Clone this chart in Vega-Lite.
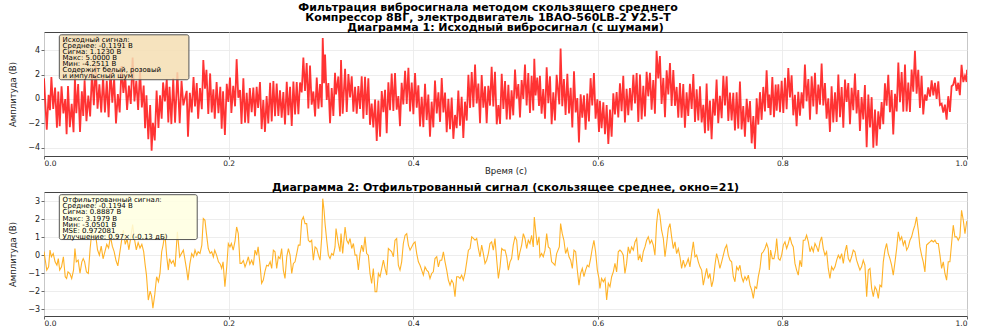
{
"$schema": "https://vega.github.io/schema/vega-lite/v6.json",
"background": "white",
"padding": {"left": 8, "top": 2, "right": 5, "bottom": 0},
"autosize": {"type": "pad"},
"title": {"text": ["Фильтрация вибросигнала методом скользящего среднего", "Компрессор 8ВГ, электродвигатель 1ВАО-560LB-2 У2.5-Т"], "font": "DejaVu Sans", "fontSize": 11, "fontWeight": "bold", "color": "#000", "lineHeight": 10, "anchor": "middle", "frame": "bounds", "offset": -1.5},
"bounds": "flush",
"spacing": 36,
"datasets": {"sig": [
{"t":0.000,"filt":0.20,"raw":1.70},{"t":0.003,"filt":-0.83,"raw":-2.53},{"t":0.005,"filt":-0.65,"raw":0.35},{"t":0.0065,"filt":0.28,"raw":-0.92},{"t":0.008,"filt":-0.09,"raw":1.81},{"t":0.010,"filt":0.09,"raw":-0.81},{"t":0.012,"filt":-0.37,"raw":0.93},{"t":0.014,"filt":-0.56,"raw":-2.36},{"t":0.0155,"filt":-0.19,"raw":0.61},{"t":0.017,"filt":-0.83,"raw":-2.23},
{"t":0.019,"filt":-0.65,"raw":1.05},{"t":0.021,"filt":-0.09,"raw":-1.19},{"t":0.023,"filt":-1.20,"raw":0.00},{"t":0.0245,"filt":-1.30,"raw":-2.90},{"t":0.026,"filt":-0.93,"raw":1.07},{"t":0.028,"filt":-1.02,"raw":-2.32},{"t":0.030,"filt":-1.30,"raw":-0.40},{"t":0.032,"filt":-0.83,"raw":-2.73},{"t":0.0335,"filt":0.37,"raw":1.77},{"t":0.035,"filt":-0.37,"raw":-1.17},
{"t":0.037,"filt":-0.28,"raw":1.22},{"t":0.039,"filt":-1.00,"raw":-2.70},{"t":0.041,"filt":-0.37,"raw":0.63},{"t":0.0425,"filt":-0.19,"raw":-1.39},{"t":0.044,"filt":-0.37,"raw":1.53},{"t":0.046,"filt":-0.93,"raw":-1.83},{"t":0.048,"filt":-1.02,"raw":0.28},{"t":0.050,"filt":0.37,"raw":-1.43},{"t":0.052,"filt":1.40,"raw":2.20},{"t":0.054,"filt":0.90,"raw":-0.50},
{"t":0.056,"filt":1.10,"raw":2.80},{"t":0.058,"filt":0.30,"raw":-0.80},{"t":0.060,"filt":0.00,"raw":1.20},{"t":0.062,"filt":0.50,"raw":-1.10},{"t":0.064,"filt":-0.20,"raw":1.80},{"t":0.066,"filt":0.20,"raw":-1.10},{"t":0.068,"filt":0.60,"raw":1.50},{"t":0.070,"filt":0.40,"raw":-1.50},{"t":0.072,"filt":1.05,"raw":2.45},{"t":0.074,"filt":0.50,"raw":-0.30},
{"t":0.076,"filt":0.20,"raw":1.70},{"t":0.078,"filt":-0.30,"raw":-2.00},{"t":0.080,"filt":-0.60,"raw":0.40},{"t":0.082,"filt":0.10,"raw":-1.10},{"t":0.084,"filt":0.80,"raw":2.70},{"t":0.086,"filt":1.40,"raw":0.50},{"t":0.088,"filt":0.60,"raw":1.90},{"t":0.090,"filt":0.90,"raw":-0.90},{"t":0.092,"filt":0.30,"raw":1.10},{"t":0.094,"filt":1.00,"raw":-0.40},
{"t":0.096,"filt":1.70,"raw":3.40},{"t":0.098,"filt":0.90,"raw":-0.20},{"t":0.100,"filt":0.30,"raw":1.50},{"t":0.102,"filt":0.70,"raw":-0.90},{"t":0.104,"filt":0.40,"raw":2.40},{"t":0.106,"filt":0.60,"raw":-0.70},{"t":0.108,"filt":0.20,"raw":1.10},{"t":0.1095,"filt":-0.50,"raw":-2.40},{"t":0.111,"filt":-1.10,"raw":0.30},{"t":0.113,"filt":-2.50,"raw":-3.30},
{"t":0.115,"filt":-2.00,"raw":-0.50},{"t":0.1166,"filt":-2.30,"raw":-4.25},{"t":0.118,"filt":-2.95,"raw":-1.95},{"t":0.120,"filt":-2.20,"raw":-3.40},{"t":0.122,"filt":-1.20,"raw":0.70},{"t":0.124,"filt":-1.48,"raw":-2.38},{"t":0.1257,"filt":-1.00,"raw":0.30},{"t":0.1275,"filt":0.19,"raw":-1.61},{"t":0.129,"filt":0.56,"raw":1.36},{"t":0.131,"filt":1.20,"raw":-0.20},
{"t":0.133,"filt":-0.09,"raw":1.61},{"t":0.1347,"filt":-0.83,"raw":-1.93},{"t":0.136,"filt":-0.20,"raw":1.00},{"t":0.138,"filt":-0.46,"raw":-2.06},{"t":0.140,"filt":-0.30,"raw":1.70},{"t":0.142,"filt":-0.65,"raw":-1.95},{"t":0.1445,"filt":1.30,"raw":2.20},{"t":0.147,"filt":-0.09,"raw":-1.99},{"t":0.149,"filt":0.10,"raw":1.50},{"t":0.151,"filt":0.28,"raw":-0.52},
{"t":0.1546,"filt":-0.83,"raw":0.67},{"t":0.156,"filt":-1.40,"raw":-3.10},{"t":0.158,"filt":-0.50,"raw":0.50},{"t":0.160,"filt":0.09,"raw":-1.11},{"t":0.162,"filt":-0.10,"raw":1.80},{"t":0.1636,"filt":0.28,"raw":-0.62},{"t":0.1655,"filt":0.00,"raw":1.30},{"t":0.167,"filt":0.19,"raw":-1.61},{"t":0.169,"filt":0.10,"raw":0.90},{"t":0.171,"filt":0.56,"raw":-0.84},
{"t":0.1726,"filt":2.04,"raw":3.20},{"t":0.1744,"filt":1.94,"raw":0.84},{"t":0.176,"filt":1.20,"raw":2.40},{"t":0.178,"filt":0.37,"raw":-1.23},{"t":0.180,"filt":0.10,"raw":2.10},{"t":0.1817,"filt":0.19,"raw":-1.11},{"t":0.1835,"filt":-0.10,"raw":0.80},{"t":0.185,"filt":0.28,"raw":-1.62},{"t":0.187,"filt":0.00,"raw":1.40},{"t":0.189,"filt":-0.37,"raw":-1.17},
{"t":0.191,"filt":-0.50,"raw":1.00},{"t":0.1925,"filt":-0.74,"raw":-2.44},{"t":0.194,"filt":-0.37,"raw":0.63},{"t":0.196,"filt":-1.76,"raw":-2.96},{"t":0.198,"filt":-0.65,"raw":1.25},{"t":0.1997,"filt":0.65,"raw":-0.25},{"t":0.2015,"filt":0.46,"raw":1.76},{"t":0.203,"filt":0.65,"raw":-1.15},{"t":0.205,"filt":0.28,"raw":1.08},{"t":0.207,"filt":0.80,"raw":-0.60},
{"t":0.2087,"filt":1.57,"raw":3.27},{"t":0.2105,"filt":1.20,"raw":0.10},{"t":0.2124,"filt":-0.46,"raw":0.74},{"t":0.214,"filt":-0.46,"raw":-2.06},{"t":0.216,"filt":-0.30,"raw":1.70},{"t":0.2178,"filt":-0.65,"raw":-1.95},{"t":0.2196,"filt":-0.40,"raw":0.50},{"t":0.2214,"filt":-0.09,"raw":-1.99},{"t":0.223,"filt":-0.50,"raw":0.90},{"t":0.225,"filt":-0.28,"raw":-1.08},
{"t":0.2268,"filt":-0.56,"raw":0.94},{"t":0.2286,"filt":0.28,"raw":-1.42},{"t":0.2304,"filt":0.00,"raw":1.00},{"t":0.232,"filt":0.46,"raw":-0.74},{"t":0.234,"filt":-0.50,"raw":1.40},{"t":0.2358,"filt":-1.57,"raw":-2.47},{"t":0.2376,"filt":-1.39,"raw":-0.09},{"t":0.2394,"filt":-0.90,"raw":-2.70},{"t":0.2412,"filt":-0.56,"raw":0.24},{"t":0.243,"filt":-0.60,"raw":-2.00},
{"t":0.245,"filt":-0.37,"raw":1.33},{"t":0.2467,"filt":-0.74,"raw":-1.84},{"t":0.2485,"filt":0.28,"raw":1.48},{"t":0.2503,"filt":0.19,"raw":-1.41},{"t":0.2521,"filt":-0.74,"raw":1.26},{"t":0.2539,"filt":-0.09,"raw":-1.39},{"t":0.2557,"filt":-0.19,"raw":0.71},{"t":0.2575,"filt":0.37,"raw":-1.53},{"t":0.2593,"filt":-0.83,"raw":0.57},{"t":0.2611,"filt":-1.30,"raw":-2.10},
{"t":0.2630,"filt":-0.09,"raw":1.41},{"t":0.2648,"filt":0.37,"raw":-1.33},{"t":0.2666,"filt":0.00,"raw":1.00},{"t":0.2684,"filt":-1.02,"raw":-2.22},{"t":0.2702,"filt":-0.46,"raw":1.44},{"t":0.2720,"filt":-0.37,"raw":-1.27},{"t":0.2738,"filt":0.09,"raw":1.39},{"t":0.2756,"filt":0.56,"raw":-1.24},{"t":0.2774,"filt":0.56,"raw":1.36},{"t":0.2792,"filt":1.94,"raw":0.54},
{"t":0.2810,"filt":2.13,"raw":3.40},{"t":0.2828,"filt":1.76,"raw":0.66},{"t":0.2846,"filt":1.76,"raw":2.96},{"t":0.2864,"filt":0.83,"raw":-0.77},{"t":0.2882,"filt":0.74,"raw":2.74},{"t":0.2900,"filt":0.83,"raw":-0.47},{"t":0.2918,"filt":-0.28,"raw":0.62},{"t":0.2937,"filt":0.46,"raw":-1.44},{"t":0.2955,"filt":0.37,"raw":1.77},{"t":0.2973,"filt":0.00,"raw":-0.80},
{"t":0.2991,"filt":-0.28,"raw":1.22},{"t":0.3009,"filt":1.02,"raw":-0.68},{"t":0.3020,"filt":3.15,"raw":5.00},{"t":0.3034,"filt":2.50,"raw":1.30},{"t":0.3045,"filt":1.76,"raw":3.66},{"t":0.3063,"filt":0.83,"raw":-0.07},{"t":0.3081,"filt":0.00,"raw":1.30},{"t":0.3099,"filt":-0.19,"raw":-1.99},{"t":0.3117,"filt":0.09,"raw":0.89},{"t":0.3135,"filt":0.00,"raw":-1.40},
{"t":0.3153,"filt":0.46,"raw":2.16},{"t":0.3164,"filt":1.48,"raw":0.38},{"t":0.3189,"filt":0.65,"raw":1.85},{"t":0.3207,"filt":0.19,"raw":-1.41},{"t":0.3218,"filt":1.20,"raw":3.20},{"t":0.3236,"filt":0.09,"raw":-1.21},{"t":0.3262,"filt":1.57,"raw":2.47},{"t":0.3280,"filt":0.83,"raw":-1.07},{"t":0.3298,"filt":0.65,"raw":2.05},{"t":0.3316,"filt":0.93,"raw":0.13},
{"t":0.3334,"filt":0.37,"raw":1.87},{"t":0.3352,"filt":0.65,"raw":-1.05},{"t":0.3370,"filt":0.00,"raw":1.00},{"t":0.3388,"filt":0.00,"raw":-1.20},{"t":0.3406,"filt":-0.83,"raw":1.07},{"t":0.3424,"filt":0.09,"raw":-0.81},{"t":0.3442,"filt":0.56,"raw":1.86},{"t":0.3460,"filt":0.19,"raw":-1.61},{"t":0.3478,"filt":1.02,"raw":1.82},{"t":0.3496,"filt":0.09,"raw":-1.31},
{"t":0.3514,"filt":0.00,"raw":1.70},{"t":0.3532,"filt":-1.02,"raw":-2.12},{"t":0.3550,"filt":-1.57,"raw":-0.37},{"t":0.3568,"filt":-0.74,"raw":-2.34},{"t":0.3587,"filt":-2.04,"raw":-0.04},{"t":0.3605,"filt":-2.04,"raw":-3.45},{"t":0.3623,"filt":-1.02,"raw":-0.12},{"t":0.3641,"filt":-1.20,"raw":-3.10},{"t":0.3659,"filt":-0.74,"raw":0.66},{"t":0.3677,"filt":-0.28,"raw":-1.08},
{"t":0.3695,"filt":-0.74,"raw":0.76},{"t":0.3713,"filt":-1.11,"raw":-2.81},{"t":0.3731,"filt":0.37,"raw":1.37},{"t":0.3749,"filt":0.28,"raw":-0.92},{"t":0.3767,"filt":0.19,"raw":2.09},{"t":0.3785,"filt":-0.09,"raw":-0.99},{"t":0.3803,"filt":0.83,"raw":2.13},{"t":0.3821,"filt":0.93,"raw":-0.87},{"t":0.3839,"filt":-0.56,"raw":0.24},{"t":0.3857,"filt":-0.83,"raw":-2.23},
{"t":0.3875,"filt":-0.37,"raw":1.33},{"t":0.3893,"filt":0.65,"raw":-0.45},{"t":0.3912,"filt":1.11,"raw":2.31},{"t":0.3930,"filt":1.20,"raw":-0.40},{"t":0.3948,"filt":0.56,"raw":2.56},{"t":0.3966,"filt":0.28,"raw":-1.02},{"t":0.3984,"filt":0.46,"raw":1.36},{"t":0.4002,"filt":0.65,"raw":-1.25},{"t":0.4020,"filt":0.74,"raw":2.14},{"t":0.4038,"filt":0.09,"raw":-0.71},
{"t":0.4056,"filt":-0.37,"raw":1.13},{"t":0.4074,"filt":-0.56,"raw":-2.26},{"t":0.4092,"filt":-0.83,"raw":0.17},{"t":0.4110,"filt":-1.11,"raw":-2.31},{"t":0.4128,"filt":-0.65,"raw":1.25},{"t":0.4146,"filt":-0.83,"raw":-1.73},{"t":0.4164,"filt":-0.93,"raw":0.37},{"t":0.4182,"filt":-1.30,"raw":-3.10},{"t":0.4200,"filt":-1.02,"raw":-0.22},{"t":0.4218,"filt":-0.93,"raw":-2.33},
{"t":0.4236,"filt":-0.19,"raw":1.51},{"t":0.4255,"filt":-0.09,"raw":-1.19},{"t":0.4273,"filt":-0.65,"raw":0.55},{"t":0.4291,"filt":-0.28,"raw":-1.88},{"t":0.4309,"filt":-0.28,"raw":1.72},{"t":0.4327,"filt":0.19,"raw":-1.11},{"t":0.4345,"filt":-0.37,"raw":0.53},{"t":0.4363,"filt":-0.83,"raw":-2.73},{"t":0.4381,"filt":-1.39,"raw":0.01},{"t":0.4399,"filt":-1.67,"raw":-2.47},
{"t":0.4417,"filt":-1.39,"raw":0.11},{"t":0.4435,"filt":-1.57,"raw":-3.27},{"t":0.4453,"filt":-2.31,"raw":-1.31},{"t":0.4471,"filt":-1.20,"raw":-2.40},{"t":0.4489,"filt":-1.20,"raw":0.70},{"t":0.4507,"filt":-1.30,"raw":-2.20},{"t":0.4525,"filt":-1.11,"raw":0.19},{"t":0.4543,"filt":-1.39,"raw":-3.19},{"t":0.4561,"filt":-1.02,"raw":-0.22},{"t":0.4580,"filt":-0.37,"raw":-1.77},
{"t":0.4598,"filt":0.28,"raw":1.98},{"t":0.4616,"filt":0.37,"raw":-0.73},{"t":0.4634,"filt":1.02,"raw":2.22},{"t":0.4652,"filt":0.93,"raw":-0.67},{"t":0.4670,"filt":0.83,"raw":2.83},{"t":0.4688,"filt":0.93,"raw":-0.37},{"t":0.4706,"filt":0.37,"raw":1.27},{"t":0.4724,"filt":-0.09,"raw":-1.99},{"t":0.4742,"filt":0.56,"raw":1.96},{"t":0.4760,"filt":0.09,"raw":-0.71},
{"t":0.4778,"filt":-0.46,"raw":1.04},{"t":0.4796,"filt":-0.28,"raw":-1.98},{"t":0.4814,"filt":0.09,"raw":1.09},{"t":0.4832,"filt":0.65,"raw":-0.55},{"t":0.4850,"filt":0.74,"raw":2.64},{"t":0.4868,"filt":0.28,"raw":-0.62},{"t":0.4886,"filt":0.93,"raw":2.23},{"t":0.4905,"filt":-0.28,"raw":-2.08},{"t":0.4923,"filt":-1.30,"raw":-0.50},{"t":0.4941,"filt":-0.65,"raw":-2.05},
{"t":0.4959,"filt":0.37,"raw":2.07},{"t":0.4977,"filt":0.28,"raw":-0.82},{"t":0.4995,"filt":0.28,"raw":1.48},{"t":0.5013,"filt":-0.09,"raw":-1.69},{"t":0.5031,"filt":-0.83,"raw":1.17},{"t":0.5049,"filt":-0.37,"raw":-1.67},{"t":0.5066,"filt":-0.19,"raw":0.71},{"t":0.5084,"filt":0.56,"raw":-1.34},{"t":0.5103,"filt":1.02,"raw":2.42},{"t":0.5121,"filt":0.83,"raw":0.03},
{"t":0.5139,"filt":-0.28,"raw":1.22},{"t":0.5157,"filt":0.19,"raw":-1.51},{"t":0.5175,"filt":0.56,"raw":1.56},{"t":0.5193,"filt":1.20,"raw":0.00},{"t":0.5211,"filt":0.93,"raw":2.83},{"t":0.5229,"filt":0.37,"raw":-0.53},{"t":0.5247,"filt":0.83,"raw":2.13},{"t":0.5265,"filt":0.65,"raw":-1.15},{"t":0.5283,"filt":1.11,"raw":1.91},{"t":0.5301,"filt":0.46,"raw":-0.94},
{"t":0.5312,"filt":2.13,"raw":3.30},{"t":0.5326,"filt":1.39,"raw":0.29},{"t":0.5344,"filt":0.56,"raw":1.76},{"t":0.5363,"filt":1.02,"raw":-0.58},{"t":0.5373,"filt":-0.09,"raw":1.91},{"t":0.5391,"filt":0.09,"raw":-1.21},{"t":0.5409,"filt":-0.09,"raw":0.81},{"t":0.5428,"filt":0.28,"raw":-1.62},{"t":0.5446,"filt":1.20,"raw":2.60},{"t":0.5464,"filt":0.46,"raw":-0.34},
{"t":0.5482,"filt":0.37,"raw":1.87},{"t":0.5500,"filt":-0.37,"raw":-2.07},{"t":0.5518,"filt":-0.46,"raw":0.54},{"t":0.5536,"filt":-0.56,"raw":-1.76},{"t":0.5554,"filt":0.09,"raw":1.99},{"t":0.5583,"filt":0.46,"raw":-0.44},{"t":0.5597,"filt":1.76,"raw":4.15},{"t":0.5615,"filt":1.20,"raw":-0.60},{"t":0.5633,"filt":0.83,"raw":1.63},{"t":0.5651,"filt":0.09,"raw":-1.31},
{"t":0.5670,"filt":0.37,"raw":2.07},{"t":0.5688,"filt":-0.09,"raw":-1.19},{"t":0.5706,"filt":-0.28,"raw":0.92},{"t":0.5724,"filt":-0.74,"raw":-2.34},{"t":0.5742,"filt":0.28,"raw":2.28},{"t":0.5760,"filt":0.19,"raw":-1.11},{"t":0.5778,"filt":-0.83,"raw":0.07},{"t":0.5796,"filt":-1.67,"raw":-3.57},{"t":0.5814,"filt":-1.02,"raw":0.38},{"t":0.5832,"filt":-0.74,"raw":-1.54},
{"t":0.5850,"filt":-1.20,"raw":0.30},{"t":0.5868,"filt":-0.83,"raw":-2.53},{"t":0.5886,"filt":-0.56,"raw":0.44},{"t":0.5904,"filt":-0.65,"raw":-1.85},{"t":0.5922,"filt":-0.19,"raw":1.71},{"t":0.5940,"filt":0.37,"raw":-0.53},{"t":0.5958,"filt":0.83,"raw":2.13},{"t":0.5976,"filt":0.19,"raw":-1.61},{"t":0.5995,"filt":-0.83,"raw":-0.03},{"t":0.6013,"filt":-1.30,"raw":-2.70},
{"t":0.6023,"filt":-1.85,"raw":-0.15},{"t":0.6041,"filt":-1.30,"raw":-2.40},{"t":0.6060,"filt":-1.48,"raw":-0.28},{"t":0.6078,"filt":-1.30,"raw":-2.90},{"t":0.6096,"filt":-2.50,"raw":-0.50},{"t":0.6114,"filt":-1.57,"raw":-3.70},{"t":0.6132,"filt":-1.76,"raw":-0.86},{"t":0.6150,"filt":-1.20,"raw":-3.10},{"t":0.6168,"filt":-0.93,"raw":0.47},{"t":0.6186,"filt":-0.46,"raw":-1.26},
{"t":0.6204,"filt":-0.93,"raw":0.57},{"t":0.6222,"filt":0.19,"raw":-1.51},{"t":0.6240,"filt":0.28,"raw":1.28},{"t":0.6258,"filt":0.19,"raw":-1.01},{"t":0.6276,"filt":0.00,"raw":1.90},{"t":0.6294,"filt":-1.02,"raw":-1.92},{"t":0.6312,"filt":-0.46,"raw":0.84},{"t":0.6330,"filt":0.46,"raw":-1.34},{"t":0.6348,"filt":0.09,"raw":0.89},{"t":0.6366,"filt":0.46,"raw":-0.94},
{"t":0.6385,"filt":0.28,"raw":1.98},{"t":0.6403,"filt":0.74,"raw":-0.36},{"t":0.6421,"filt":0.93,"raw":2.13},{"t":0.6439,"filt":-0.28,"raw":-1.88},{"t":0.6457,"filt":0.00,"raw":2.00},{"t":0.6475,"filt":-0.37,"raw":-1.67},{"t":0.6493,"filt":0.19,"raw":1.09},{"t":0.6511,"filt":0.46,"raw":-1.44},{"t":0.6529,"filt":0.83,"raw":2.23},{"t":0.6547,"filt":1.02,"raw":0.22},
{"t":0.6565,"filt":0.65,"raw":2.15},{"t":0.6583,"filt":0.83,"raw":-0.87},{"t":0.6601,"filt":0.56,"raw":1.56},{"t":0.6619,"filt":0.00,"raw":-1.20},{"t":0.6637,"filt":1.76,"raw":3.95},{"t":0.6655,"filt":2.59,"raw":1.69},{"t":0.6673,"filt":2.22,"raw":3.52},{"t":0.6691,"filt":1.39,"raw":-0.41},{"t":0.6710,"filt":0.93,"raw":1.73},{"t":0.6728,"filt":-0.09,"raw":-1.49},
{"t":0.6746,"filt":0.65,"raw":2.35},{"t":0.6764,"filt":1.48,"raw":0.38},{"t":0.6782,"filt":1.76,"raw":2.96},{"t":0.6800,"filt":1.02,"raw":-0.58},{"t":0.6818,"filt":0.37,"raw":2.37},{"t":0.6836,"filt":0.74,"raw":-0.56},{"t":0.6854,"filt":0.09,"raw":0.99},{"t":0.6872,"filt":0.37,"raw":-1.53},{"t":0.6890,"filt":-0.09,"raw":1.31},{"t":0.6908,"filt":-0.74,"raw":-1.54},
{"t":0.6926,"filt":-0.28,"raw":1.22},{"t":0.6944,"filt":-0.65,"raw":-2.35},{"t":0.6962,"filt":-0.46,"raw":0.54},{"t":0.6980,"filt":-0.19,"raw":-1.39},{"t":0.6998,"filt":-0.65,"raw":1.25},{"t":0.7017,"filt":0.09,"raw":-0.81},{"t":0.7035,"filt":0.74,"raw":2.04},{"t":0.7053,"filt":-0.09,"raw":-1.89},{"t":0.7071,"filt":0.00,"raw":0.80},{"t":0.7089,"filt":-0.37,"raw":-1.77},
{"t":0.7107,"filt":-0.65,"raw":1.05},{"t":0.7125,"filt":-0.83,"raw":-1.93},{"t":0.7143,"filt":-1.67,"raw":-0.47},{"t":0.7161,"filt":-1.20,"raw":-2.80},{"t":0.7179,"filt":-0.74,"raw":1.26},{"t":0.7197,"filt":-1.30,"raw":-2.60},{"t":0.7215,"filt":-1.02,"raw":-0.12},{"t":0.7233,"filt":-1.76,"raw":-3.30},{"t":0.7251,"filt":-1.39,"raw":0.01},{"t":0.7269,"filt":-0.56,"raw":-1.36},
{"t":0.7287,"filt":0.09,"raw":1.59},{"t":0.7305,"filt":-0.28,"raw":-1.98},{"t":0.7323,"filt":-0.74,"raw":0.26},{"t":0.7342,"filt":-0.37,"raw":-1.57},{"t":0.7360,"filt":0.00,"raw":1.90},{"t":0.7378,"filt":0.37,"raw":-0.53},{"t":0.7396,"filt":0.56,"raw":1.86},{"t":0.7414,"filt":0.00,"raw":-1.80},{"t":0.7432,"filt":-0.28,"raw":0.52},{"t":0.7450,"filt":-0.37,"raw":-1.77},
{"t":0.7468,"filt":-1.20,"raw":0.50},{"t":0.7486,"filt":-1.48,"raw":-2.58},{"t":0.7504,"filt":-0.65,"raw":0.55},{"t":0.7522,"filt":-0.83,"raw":-2.43},{"t":0.7540,"filt":-0.56,"raw":1.44},{"t":0.7558,"filt":-1.20,"raw":-2.50},{"t":0.7576,"filt":-1.48,"raw":-0.58},{"t":0.7594,"filt":-1.20,"raw":-3.10},{"t":0.7613,"filt":-1.39,"raw":0.01},{"t":0.7631,"filt":-1.11,"raw":-1.91},
{"t":0.7649,"filt":-1.67,"raw":-0.17},{"t":0.7667,"filt":-1.94,"raw":-3.64},{"t":0.7685,"filt":-2.41,"raw":-1.41},{"t":0.7703,"filt":-1.76,"raw":-4.10},{"t":0.7721,"filt":-1.85,"raw":0.05},{"t":0.7739,"filt":-1.20,"raw":-2.10},{"t":0.7757,"filt":-0.74,"raw":0.56},{"t":0.7775,"filt":0.09,"raw":-1.71},{"t":0.7793,"filt":0.19,"raw":0.99},{"t":0.7811,"filt":0.37,"raw":-1.03},
{"t":0.7829,"filt":0.65,"raw":2.35},{"t":0.7847,"filt":0.37,"raw":-0.73},{"t":0.7858,"filt":-0.83,"raw":0.37},{"t":0.7872,"filt":0.28,"raw":-1.32},{"t":0.7891,"filt":-0.19,"raw":1.81},{"t":0.7909,"filt":-0.19,"raw":-1.49},{"t":0.7927,"filt":0.28,"raw":1.18},{"t":0.7938,"filt":0.93,"raw":-0.97},{"t":0.7956,"filt":-0.19,"raw":1.21},{"t":0.7974,"filt":-0.28,"raw":-1.08},
{"t":0.7992,"filt":0.00,"raw":1.50},{"t":0.8010,"filt":0.56,"raw":-1.14},{"t":0.8028,"filt":0.74,"raw":1.74},{"t":0.8046,"filt":0.37,"raw":-0.83},{"t":0.8064,"filt":0.65,"raw":2.55},{"t":0.8082,"filt":1.02,"raw":0.12},{"t":0.8100,"filt":0.65,"raw":1.95},{"t":0.8118,"filt":0.46,"raw":-1.34},{"t":0.8136,"filt":-0.46,"raw":0.34},{"t":0.8154,"filt":-0.83,"raw":-2.23},
{"t":0.8172,"filt":-1.11,"raw":0.59},{"t":0.8190,"filt":-0.28,"raw":-1.38},{"t":0.8208,"filt":-0.65,"raw":0.55},{"t":0.8226,"filt":0.83,"raw":-0.77},{"t":0.8244,"filt":0.83,"raw":2.83},{"t":0.8262,"filt":1.11,"raw":-0.19},{"t":0.8281,"filt":0.74,"raw":1.64},{"t":0.8299,"filt":0.19,"raw":-1.71},{"t":0.8317,"filt":0.46,"raw":1.86},{"t":0.8335,"filt":0.19,"raw":-0.61},
{"t":0.8353,"filt":0.65,"raw":2.15},{"t":0.8371,"filt":0.46,"raw":-1.24},{"t":0.8389,"filt":0.19,"raw":1.19},{"t":0.8407,"filt":0.74,"raw":-0.46},{"t":0.8425,"filt":1.02,"raw":2.92},{"t":0.8443,"filt":0.37,"raw":-0.53},{"t":0.8461,"filt":0.00,"raw":1.30},{"t":0.8479,"filt":0.19,"raw":-1.61},{"t":0.8497,"filt":-0.74,"raw":0.06},{"t":0.8515,"filt":-1.30,"raw":-2.70},
{"t":0.8533,"filt":-0.65,"raw":1.05},{"t":0.8551,"filt":-0.83,"raw":-1.93},{"t":0.8570,"filt":-0.65,"raw":0.55},{"t":0.8588,"filt":-0.28,"raw":-1.88},{"t":0.8606,"filt":0.00,"raw":2.00},{"t":0.8624,"filt":-0.19,"raw":-1.49},{"t":0.8642,"filt":0.09,"raw":0.99},{"t":0.8660,"filt":-0.46,"raw":-2.36},{"t":0.8678,"filt":0.19,"raw":1.59},{"t":0.8696,"filt":0.56,"raw":-0.24},
{"t":0.8714,"filt":-0.19,"raw":1.31},{"t":0.8732,"filt":-0.37,"raw":-2.07},{"t":0.8750,"filt":-0.09,"raw":0.91},{"t":0.8768,"filt":0.28,"raw":-0.92},{"t":0.8786,"filt":0.19,"raw":2.09},{"t":0.8804,"filt":-0.28,"raw":-1.18},{"t":0.8822,"filt":-0.56,"raw":0.74},{"t":0.8840,"filt":-0.83,"raw":-2.63},{"t":0.8858,"filt":-0.65,"raw":0.15},{"t":0.8876,"filt":-0.28,"raw":-1.68},
{"t":0.8894,"filt":-0.56,"raw":1.14},{"t":0.8913,"filt":-2.31,"raw":-3.95},{"t":0.8931,"filt":-0.83,"raw":0.37},{"t":0.8949,"filt":-0.74,"raw":-2.34},{"t":0.8967,"filt":-1.85,"raw":0.15},{"t":0.8985,"filt":-2.31,"raw":-4.00},{"t":0.9003,"filt":-1.76,"raw":-0.86},{"t":0.9021,"filt":-1.94,"raw":-3.84},{"t":0.9039,"filt":-2.41,"raw":-1.01},{"t":0.9057,"filt":-1.67,"raw":-2.47},
{"t":0.9075,"filt":-1.76,"raw":-0.26},{"t":0.9093,"filt":-0.37,"raw":-2.07},{"t":0.9111,"filt":0.28,"raw":1.28},{"t":0.9129,"filt":0.65,"raw":-0.55},{"t":0.9147,"filt":0.09,"raw":1.99},{"t":0.9165,"filt":-0.19,"raw":-1.09},{"t":0.9183,"filt":-0.56,"raw":0.74},{"t":0.9201,"filt":-1.11,"raw":-2.91},{"t":0.9220,"filt":-0.37,"raw":0.43},{"t":0.9238,"filt":0.37,"raw":-1.03},
{"t":0.9256,"filt":1.30,"raw":3.00},{"t":0.9274,"filt":0.83,"raw":-0.27},{"t":0.9292,"filt":1.02,"raw":2.22},{"t":0.9310,"filt":0.56,"raw":-1.04},{"t":0.9328,"filt":0.83,"raw":2.83},{"t":0.9346,"filt":0.28,"raw":-1.02},{"t":0.9364,"filt":0.46,"raw":1.36},{"t":0.9382,"filt":0.83,"raw":-1.07},{"t":0.9400,"filt":1.02,"raw":2.42},{"t":0.9418,"filt":1.39,"raw":0.59},
{"t":0.9436,"filt":1.67,"raw":3.95},{"t":0.9454,"filt":2.13,"raw":0.43},{"t":0.9472,"filt":1.39,"raw":2.39},{"t":0.9490,"filt":0.46,"raw":-0.74},{"t":0.9508,"filt":0.00,"raw":1.90},{"t":0.9526,"filt":-0.37,"raw":-1.27},{"t":0.9544,"filt":-0.93,"raw":0.37},{"t":0.9562,"filt":0.56,"raw":-0.14},{"t":0.9580,"filt":0.65,"raw":0.95},{"t":0.9599,"filt":0.74,"raw":0.19},
{"t":0.9617,"filt":0.83,"raw":1.53},{"t":0.9635,"filt":0.74,"raw":0.29},{"t":0.9653,"filt":0.83,"raw":1.33},{"t":0.9671,"filt":0.65,"raw":0.00},{"t":0.9689,"filt":0.65,"raw":1.45},{"t":0.9707,"filt":0.00,"raw":-0.50},{"t":0.9725,"filt":-0.74,"raw":-0.39},{"t":0.9743,"filt":-0.37,"raw":-1.12},{"t":0.9761,"filt":-1.02,"raw":-0.47},{"t":0.9779,"filt":-1.39,"raw":-1.69},
{"t":0.9797,"filt":-0.37,"raw":0.23},{"t":0.9815,"filt":-0.37,"raw":-1.07},{"t":0.9833,"filt":0.65,"raw":1.05},{"t":0.9851,"filt":1.67,"raw":1.17},{"t":0.9869,"filt":1.02,"raw":1.77},{"t":0.9887,"filt":1.02,"raw":0.67},{"t":0.9905,"filt":0.83,"raw":1.33},{"t":0.9923,"filt":1.02,"raw":0.32},{"t":0.9941,"filt":2.50,"raw":2.80},{"t":0.9960,"filt":1.94,"raw":1.39},
{"t":0.9978,"filt":1.20,"raw":1.90},{"t":0.9996,"filt":1.85,"raw":1.40},{"t":1.0000,"filt":1.90,"raw":2.40}
]},
"vconcat": [
{
"width": 923, "height": 124,
"title": {"text": "Диаграмма 1: Исходный вибросигнал (с шумами)", "frame": "group", "offset": -1},
"layer": [
{"data": {"name": "sig"},
 "mark": {"type": "line", "color": "#ff0000", "strokeWidth": 1.8, "opacity": 0.8, "clip": true},
 "encoding": {
  "x": {"field": "t", "type": "quantitative", "scale": {"domain": [0, 1], "nice": false, "zero": false}, "axis": {"values": [0, 0.2, 0.4, 0.6, 0.8, 1], "tickCount": 50, "format": ".1f", "title": "Время (с)", "labelOverlap": false}},
  "y": {"field": "raw", "type": "quantitative", "scale": {"domain": [-4.68, 5.5], "nice": false, "zero": false}, "axis": {"values": [-4, -2, 0, 2, 4], "tickCount": 50, "format": "d", "title": "Амплитуда (В)", "labelOverlap": false}}
 }},
{"data": {"values": [{"name": "Исходный сигнал", "lines": ["Исходный сигнал:", "Среднее: -0.1191 В", "Сигма: 1.1230 В", "Макс: 5.0000 В", "Мин: -4.2511 В", "Содержит белый, розовый", "и импульсный шум"]}]},
 "mark": {"type": "rect", "fill": "#f5deb3", "fillOpacity": 0.85, "stroke": "#555555", "strokeWidth": 1, "cornerRadius": 2},
 "encoding": {"x": {"datum": 0.0166}, "x2": {"datum": 0.157}, "y": {"datum": 5.27}, "y2": {"datum": 1.58}}},
{"data": {"values": [{"name": "Исходный сигнал", "lines": ["Исходный сигнал:", "Среднее: -0.1191 В", "Сигма: 1.1230 В", "Макс: 5.0000 В", "Мин: -4.2511 В", "Содержит белый, розовый", "и импульсный шум"]}]},
 "mark": {"type": "text", "align": "left", "baseline": "top", "fontSize": 7, "lineHeight": 6.1, "font": "DejaVu Sans", "color": "#000"},
 "encoding": {"x": {"datum": 0.0201}, "y": {"datum": 5.2}, "text": {"field": "lines"}}}
]
},
{
"width": 923, "height": 124,
"title": {"text": "Диаграмма 2: Отфильтрованный сигнал (скользящее среднее, окно=21)", "frame": "group", "offset": -1},
"layer": [
{"data": {"name": "sig"},
 "mark": {"type": "line", "color": "#ffa500", "strokeWidth": 1.1, "opacity": 0.85, "clip": true},
 "encoding": {
  "x": {"field": "t", "type": "quantitative", "scale": {"domain": [0, 1], "nice": false, "zero": false}, "axis": {"values": [0, 0.2, 0.4, 0.6, 0.8, 1], "tickCount": 50, "format": ".1f", "title": null, "labelOverlap": false}},
  "y": {"field": "filt", "type": "quantitative", "scale": {"domain": [-3.39, 3.52], "nice": false, "zero": false}, "axis": {"values": [-3, -2, -1, 0, 1, 2, 3], "tickCount": 50, "format": "d", "title": "Амплитуда (В)", "labelOverlap": false}}
 }},
{"data": {"values": [{"name": "Отфильтрованный сигнал", "lines": ["Отфильтрованный сигнал:", "Среднее: -0.1194 В", "Сигма: 0.8887 В", "Макс: 3.1979 В", "Мин: -3.0501 В", "MSE: 0.972081", "Улучшение: 0.97× (-0.13 дБ)"]}]},
 "mark": {"type": "rect", "fill": "#ffffe0", "fillOpacity": 0.85, "stroke": "#555555", "strokeWidth": 1, "cornerRadius": 2},
 "encoding": {"x": {"datum": 0.0166}, "x2": {"datum": 0.166}, "y": {"datum": 3.37}, "y2": {"datum": 0.87}}},
{"data": {"values": [{"name": "Отфильтрованный сигнал", "lines": ["Отфильтрованный сигнал:", "Среднее: -0.1194 В", "Сигма: 0.8887 В", "Макс: 3.1979 В", "Мин: -3.0501 В", "MSE: 0.972081", "Улучшение: 0.97× (-0.13 дБ)"]}]},
 "mark": {"type": "text", "align": "left", "baseline": "top", "fontSize": 7, "lineHeight": 6.1, "font": "DejaVu Sans", "color": "#000"},
 "encoding": {"x": {"datum": 0.0201}, "y": {"datum": 3.28}, "text": {"field": "lines"}}}
]
}
],
"config": {
 "font": "DejaVu Sans",
 "view": {"stroke": "#444444", "strokeWidth": 1},
 "title": {"font": "DejaVu Sans", "fontSize": 11, "fontWeight": "bold", "color": "#000000", "anchor": "middle"},
 "axis": {"domain": false, "grid": true, "gridColor": "#e8e8e8", "gridWidth": 0.8, "ticks": true, "tickSize": 3, "tickColor": "#444444", "tickWidth": 0.8, "labelFont": "DejaVu Sans", "labelFontSize": 8, "labelColor": "#222222", "labelPadding": 1.5, "labelOverlap": false, "titleFont": "DejaVu Sans", "titleFontSize": 8.5, "titleFontWeight": "normal", "titleColor": "#222222"},
 "axisX": {"titlePadding": -1, "labelPadding": 0.5, "labelFontSize": 7.5},
 "axisY": {"titlePadding": 10}
}
}
